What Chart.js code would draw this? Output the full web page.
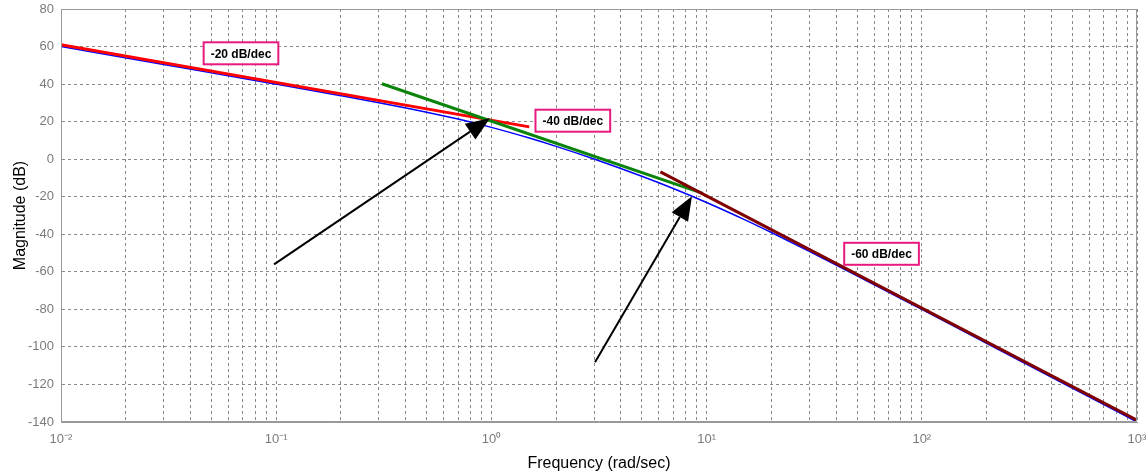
<!DOCTYPE html>
<html>
<head>
<meta charset="utf-8">
<script src="https://cdn.jsdelivr.net/npm/chart.js@4.4.1/dist/chart.umd.min.js"></script>
<style>
  html, body { margin: 0; padding: 0; background: #fff; }
  #wrap { width: 1148px; height: 473px; }
</style>
</head>
<body>
<div id="wrap"><canvas id="bode"></canvas></div>
<script>
// exact magnitude response
const freq = [0.01, 0.03, 0.1, 0.2, 0.3, 0.5, 0.7, 1, 1.5, 2, 3, 5, 7, 10, 15, 20, 30, 50, 100, 200, 500, 1000];
const magnitude = [60.0, 50.45, 39.96, 33.81, 30.08, 25.04, 21.35, 16.95, 11.26, 6.82, 0.08, -9.10, -15.62, -23.05, -32.18, -39.04, -49.09, -62.11, -80.04, -98.07, -121.94, -140.0];

// straight-line asymptotes
const slope20Freq = [0.01, 1.5];
const slope20Mag = [61, 17.2];
const slope40Freq = [0.31, 9.6];
const slope40Mag = [40.2, -18.2];
const slope60Freq = [6.1, 1000];
const slope60Mag = [-6.8, -139];

// boxed annotations: text, frequency, dB
const noteText = ['-20 dB/dec', '-40 dB/dec', '-60 dB/dec'];
const noteFreq = [0.0686, 2.39, 65.0];
const noteMag = [56.4, 20.5, -50.4];

// arrows: tail -> tip
const arrowTailFreq = [0.0977, 3.03];
const arrowTailMag = [-56, -108.2];
const arrowTipFreq = [0.985, 8.55];
const arrowTipMag = [21.8, -19.8];

const yTicks = [-140, -120, -100, -80, -60, -40, -20, 0, 20, 40, 60, 80];

const toPoints = (xs, ys) => xs.map((x, i) => ({ x: x, y: ys[i] }));

const supMap = { '-': '\u207B', '0': '\u2070', '1': '\u00B9', '2': '\u00B2', '3': '\u00B3' };
const sup = (n) => String(n).split('').map(c => supMap[c]).join('');

const FONT = '"Liberation Sans", Arial, sans-serif';

const notesPlugin = {
  id: 'notes',
  afterDatasetsDraw(chart) {
    const { ctx, scales: { x, y } } = chart;
    ctx.save();

    // arrows
    arrowTailFreq.forEach((f, i) => {
      const x0 = x.getPixelForValue(f), y0 = y.getPixelForValue(arrowTailMag[i]);
      const x1 = x.getPixelForValue(arrowTipFreq[i]), y1 = y.getPixelForValue(arrowTipMag[i]);
      const ang = Math.atan2(y1 - y0, x1 - x0);
      const headLen = 24, headW = 9.5;
      const bx = x1 - headLen * Math.cos(ang), by = y1 - headLen * Math.sin(ang);
      ctx.strokeStyle = '#000';
      ctx.lineWidth = 2;
      ctx.beginPath();
      ctx.moveTo(x0, y0);
      ctx.lineTo(bx, by);
      ctx.stroke();
      ctx.fillStyle = '#000';
      ctx.beginPath();
      ctx.moveTo(x1, y1);
      ctx.lineTo(bx + headW * Math.sin(ang), by - headW * Math.cos(ang));
      ctx.lineTo(bx - headW * Math.sin(ang), by + headW * Math.cos(ang));
      ctx.closePath();
      ctx.fill();
    });

    // boxed labels
    ctx.font = 'bold 12px ' + FONT;
    ctx.textAlign = 'center';
    ctx.textBaseline = 'middle';
    noteText.forEach((t, i) => {
      const cx = x.getPixelForValue(noteFreq[i]), cy = y.getPixelForValue(noteMag[i]);
      const w = ctx.measureText(t).width + 14, h = 22;
      ctx.fillStyle = '#fff';
      ctx.fillRect(cx - w / 2, cy - h / 2, w, h);
      ctx.strokeStyle = '#e8197f';
      ctx.lineWidth = 2;
      ctx.strokeRect(cx - w / 2, cy - h / 2, w, h);
      ctx.fillStyle = '#000';
      ctx.fillText(t, cx, cy + 1);
    });
    ctx.restore();
  }
};

const gridStyle = {
  color: '#8a8a8a',
  lineWidth: 1,
  drawTicks: false,
};

new Chart(document.getElementById('bode'), {
  type: 'scatter',
  data: {
    datasets: [
      {
        label: 'Magnitude',
        data: toPoints(freq, magnitude),
        showLine: true,
        borderColor: '#0000ff',
        borderWidth: 1.5,
        pointRadius: 0,
        cubicInterpolationMode: 'monotone',
        order: 4,
      },
      {
        label: '-20 dB/dec',
        data: toPoints(slope20Freq, slope20Mag),
        showLine: true,
        borderColor: '#ff0000',
        borderWidth: 3,
        pointRadius: 0,
        order: 3,
      },
      {
        label: '-40 dB/dec',
        data: toPoints(slope40Freq, slope40Mag),
        showLine: true,
        borderColor: '#0a840a',
        borderWidth: 3,
        pointRadius: 0,
        order: 2,
      },
      {
        label: '-60 dB/dec',
        data: toPoints(slope60Freq, slope60Mag),
        showLine: true,
        borderColor: '#800000',
        borderWidth: 3,
        pointRadius: 0,
        order: 1,
      },
    ],
  },
  options: {
    responsive: true,
    maintainAspectRatio: false,
    animation: false,
    layout: { padding: { left: 0, top: 9, right: 11, bottom: 0 } },
    plugins: {
      legend: { display: false },
      tooltip: { enabled: false },
    },
    scales: {
      x: {
        type: 'logarithmic',
        min: 0.01,
        max: 1000,
        afterBuildTicks(scale) {
          const ticks = [];
          for (let e = -2; e <= 3; e++) {
            for (let m = 1; m <= 9; m++) {
              const v = m * Math.pow(10, e);
              if (v <= 1000.0001) ticks.push({ value: Number(v.toPrecision(3)), major: m === 1 });
            }
          }
          scale.ticks = ticks;
        },
        afterFit(scale) {
          scale.height = 51;
          scale.paddingLeft = 0;
          scale.paddingRight = 0;
        },
        border: { display: true, color: '#999', width: 1, dash: [3, 3] },
        grid: { ...gridStyle },
        ticks: {
          autoSkip: false,
          maxRotation: 0,
          padding: 10,
          color: '#7a7a7a',
          font: { family: FONT, size: 13 },
          callback(v) {
            const e = Math.log10(v);
            if (Math.abs(e - Math.round(e)) < 1e-6) return '10' + sup(Math.round(e));
            return '';
          },
        },
        title: {
          display: true,
          text: 'Frequency (rad/sec)',
          color: '#000',
          font: { family: FONT, size: 16 },
          padding: { top: 2, bottom: 0 },
        },
      },
      y: {
        min: -140,
        max: 80,
        afterBuildTicks(scale) {
          scale.ticks = yTicks.map(v => ({ value: v }));
        },
        afterFit(scale) {
          scale.width = 61;
          scale.paddingTop = 0;
          scale.paddingBottom = 0;
        },
        border: { display: true, color: '#999', width: 1, dash: [3, 3] },
        grid: { ...gridStyle },
        ticks: {
          padding: 7,
          color: '#7a7a7a',
          font: { family: FONT, size: 13 },
        },
        title: {
          display: true,
          text: 'Magnitude (dB)',
          color: '#000',
          font: { family: FONT, size: 16 },
          padding: { top: 11, bottom: 0 },
        },
      },
    },
  },
  plugins: [
    notesPlugin,
    {
      id: 'frame',
      afterDraw(chart) {
        const { ctx, chartArea: a } = chart;
        ctx.save();
        ctx.strokeStyle = '#999';
        ctx.lineWidth = 1;
        ctx.setLineDash([]);
        ctx.strokeRect(a.left + 0.5, a.top + 0.5, a.right - a.left - 1, a.bottom - a.top - 1);
        ctx.restore();
      },
    },
  ],
});
</script>
</body>
</html>
